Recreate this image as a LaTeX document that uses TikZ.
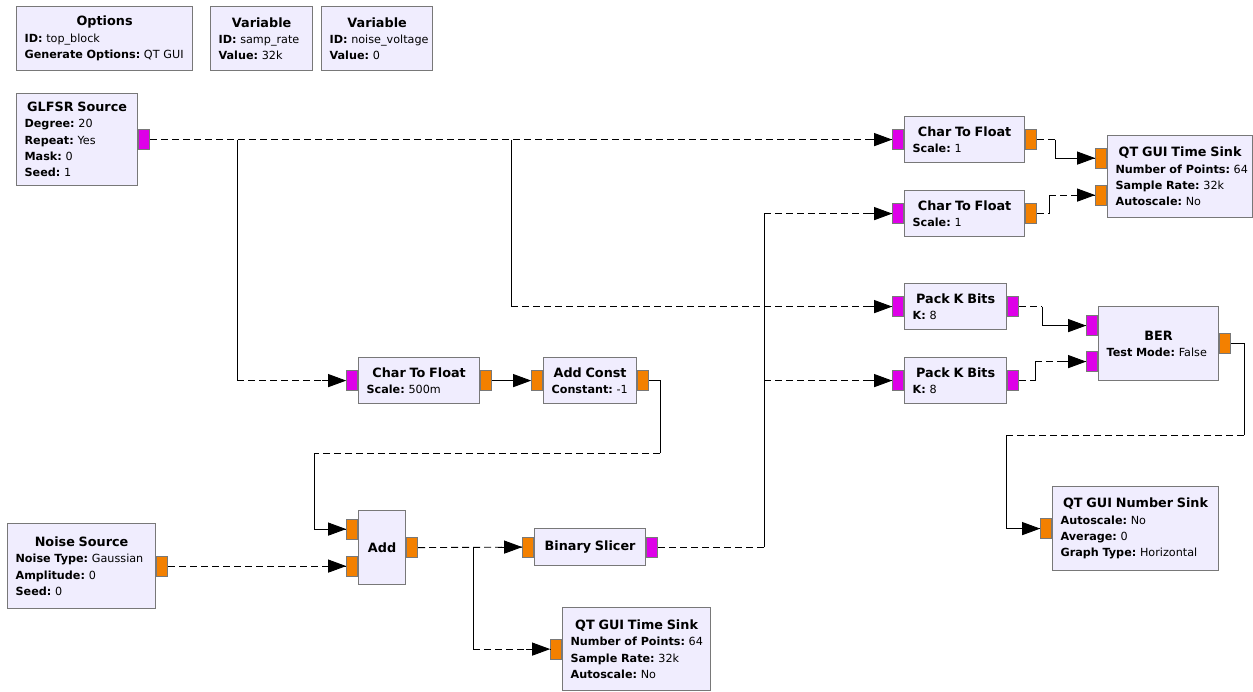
\documentclass[tikz,border=0pt]{standalone}
\usepackage{fontspec}
\setmainfont{DejaVu Sans}
\usepackage{xcolor}
\usepackage{tikz}
\usetikzlibrary{arrows.meta,positioning}

\definecolor{blkfill}{RGB}{240,237,254}
\definecolor{blkline}{RGB}{120,120,120}
\definecolor{bytemag}{RGB}{222,0,232}
\definecolor{floatorg}{RGB}{243,128,0}
\newcommand{\btitle}[1]{\centering{\fontsize{12.8}{17}\selectfont\bfseries #1\par}\raggedright}

\begin{document}
\begin{tikzpicture}[x=1pt,y=-1pt,
    block/.style={draw=blkline,line width=1.2pt,fill=blkfill,anchor=north west,
      inner xsep=8pt,inner ysep=2pt,font=\fontsize{11.2}{16.3}\selectfont},
    portb/.style={draw=blkline,line width=0.8pt,fill=bytemag,minimum width=11pt,
      minimum height=20pt,inner sep=0pt},
    portf/.style={portb,fill=floatorg},
    wire/.style={black,line width=0.9pt},
    link/.style={wire,dash pattern=on 7pt off 4pt},
    tip/.style={wire,-{Triangle[length=18pt,width=13pt]}}]
    \useasboundingbox (0,0) rectangle (1253,692);
    % Variables and options
    \node[block,text width=160pt,minimum height=64pt] (opts) at (16,6)
      {\btitle{Options}\textbf{ID:}~top\_block\par\textbf{Generate~Options:}~QT~GUI};
    \node[block,text width=86pt,minimum height=64pt] (var1) at (210,6)
      {\btitle{Variable}\textbf{ID:}~samp\_rate\par\textbf{Value:}~32k};
    \node[block,text width=95pt,minimum height=64pt] (var2) at (321,6)
      {\btitle{Variable}\textbf{ID:}~noise\_voltage\par\textbf{Value:}~0};
    % Sources
    \node[block,text width=105pt,minimum height=92pt] (glfsr) at (16,93)
      {\btitle{GLFSR~Source}\textbf{Degree:}~20\par\textbf{Repeat:}~Yes\par\textbf{Mask:}~0\par\textbf{Seed:}~1};
    \node[block,text width=132pt,minimum height=85pt] (noise) at (7,523)
      {\btitle{Noise~Source}\textbf{Noise~Type:}~Gaussian\par\textbf{Amplitude:}~0\par\textbf{Seed:}~0};
    % Processing blocks
    \node[block,text width=105pt,minimum height=46pt] (c2fm) at (358,357)
      {\btitle{Char~To~Float}\textbf{Scale:}~500m};
    \node[block,text width=77pt,minimum height=46pt] (addc) at (543,357)
      {\btitle{Add~Const}\textbf{Constant:}~-1};
    \node[block,text width=31pt,minimum height=74pt] (add) at (358,510) {\btitle{Add}};
    \node[block,text width=95pt,minimum height=37pt] (bs) at (534,528) {\btitle{Binary~Slicer}};
    \node[block,text width=104pt,minimum height=46pt] (c2f1) at (904,116)
      {\btitle{Char~To~Float}\textbf{Scale:}~1};
    \node[block,text width=104pt,minimum height=46pt] (c2f2) at (904,190)
      {\btitle{Char~To~Float}\textbf{Scale:}~1};
    \node[block,text width=86pt,minimum height=46pt] (pk1) at (904,283)
      {\btitle{Pack~K~Bits}\textbf{K:}~8};
    \node[block,text width=86pt,minimum height=46pt] (pk2) at (904,357)
      {\btitle{Pack~K~Bits}\textbf{K:}~8};
    \node[block,text width=104pt,minimum height=74pt] (ber) at (1098,306)
      {\btitle{BER}\textbf{Test~Mode:}~False};
    % Sinks
    \node[block,text width=129pt,minimum height=82pt] (ts1) at (1107,135)
      {\btitle{QT~GUI~Time~Sink}\textbf{Number~of~Points:}~64\par\textbf{Sample~Rate:}~32k\par\textbf{Autoscale:}~No};
    \node[block,text width=132pt,minimum height=83pt] (ts2) at (562,607)
      {\btitle{QT~GUI~Time~Sink}\textbf{Number~of~Points:}~64\par\textbf{Sample~Rate:}~32k\par\textbf{Autoscale:}~No};
    \node[block,text width=150pt,minimum height=84pt] (ns) at (1052,486)
      {\btitle{QT~GUI~Number~Sink}\textbf{Autoscale:}~No\par\textbf{Average:}~0\par\textbf{Graph~Type:}~Horizontal};
    % Ports
    \node[portb,anchor=west] (glfsr-out) at (glfsr.east) {};
    \node[portf,anchor=west] (noise-out) at (noise.east) {};
    \node[portb,anchor=east] (c2fm-in) at (c2fm.west) {};
    \node[portf,anchor=west] (c2fm-out) at (c2fm.east) {};
    \node[portf,anchor=east] (addc-in) at (addc.west) {};
    \node[portf,anchor=west] (addc-out) at (addc.east) {};
    \node[portf,anchor=east] (add-in0) at ([yshift=18.5pt]add.west) {};
    \node[portf,anchor=east] (add-in1) at ([yshift=-18.5pt]add.west) {};
    \node[portf,anchor=west] (add-out) at (add.east) {};
    \node[portf,anchor=east] (bs-in) at (bs.west) {};
    \node[portb,anchor=west] (bs-out) at (bs.east) {};
    \node[portb,anchor=east] (c2f1-in) at (c2f1.west) {};
    \node[portf,anchor=west] (c2f1-out) at (c2f1.east) {};
    \node[portb,anchor=east] (c2f2-in) at (c2f2.west) {};
    \node[portf,anchor=west] (c2f2-out) at (c2f2.east) {};
    \node[portb,anchor=east] (pk1-in) at (pk1.west) {};
    \node[portb,anchor=west] (pk1-out) at (pk1.east) {};
    \node[portb,anchor=east] (pk2-in) at (pk2.west) {};
    \node[portb,anchor=west] (pk2-out) at (pk2.east) {};
    \node[portb,anchor=east] (ber-in0) at ([yshift=18pt]ber.west) {};
    \node[portb,anchor=east] (ber-in1) at ([yshift=-18pt]ber.west) {};
    \node[portf,anchor=west] (ber-out) at (ber.east) {};
    \node[portf,anchor=east] (ts1-in0) at ([yshift=18.5pt]ts1.west) {};
    \node[portf,anchor=east] (ts1-in1) at ([yshift=-18.5pt]ts1.west) {};
    \node[portf,anchor=east] (ts2-in) at (ts2.west) {};
    \node[portf,anchor=east] (ns-in) at (ns.west) {};
    % Lanes and bends
    \coordinate (v1) at (237,0);
    \coordinate (v2) at (511,0);
    \coordinate (v3) at (473,0);
    \coordinate (v4) at (764,0);
    \coordinate (v5) at (1055,0);
    \coordinate (v6) at (1049,0);
    \coordinate (v7) at (1042,0);
    \coordinate (v8) at (1035,0);
    \coordinate (r1) at (660,453);
    \coordinate (r2) at (314,453);
    \coordinate (r3) at (1244,435);
    \coordinate (r4) at (1006,435);
    % GLFSR source fan-out
    \draw[link] (glfsr-out.east) -- (c2f1-in.west);
    \draw[wire] (v1 |- glfsr-out) -- (v1 |- c2fm-in);
    \draw[link] (v1 |- c2fm-in) -- (c2fm-in.west);
    \draw[wire] (v2 |- glfsr-out) -- (v2 |- pk1-in);
    \draw[link] (v2 |- pk1-in) -- (pk1-in.west);
    \draw[tip] ([xshift=-24pt]c2f1-in.west) -- (c2f1-in.west);
    \draw[tip] ([xshift=-24pt]c2fm-in.west) -- (c2fm-in.west);
    \draw[tip] ([xshift=-24pt]pk1-in.west) -- (pk1-in.west);
    % Char to float -> add const -> add
    \draw[tip] (c2fm-out.east) -- (addc-in.west);
    \draw[wire] (addc-out.east) -| (r1);
    \draw[link] (r1) -- (r2);
    \draw[wire] (r2) |- (add-in0.west);
    \draw[tip] ([xshift=-24pt]add-in0.west) -- (add-in0.west);
    % Noise -> add
    \draw[link] (noise-out.east) -- (add-in1.west);
    \draw[tip] ([xshift=-24pt]add-in1.west) -- (add-in1.west);
    % Add -> binary slicer and time sink
    \draw[link] (add-out.east) -- (bs-in.west);
    \draw[wire] (v3 |- add-out) -- (v3 |- ts2-in);
    \draw[link] (v3 |- ts2-in) -- (ts2-in.west);
    \draw[tip] ([xshift=-24pt]bs-in.west) -- (bs-in.west);
    \draw[tip] ([xshift=-24pt]ts2-in.west) -- (ts2-in.west);
    % Binary slicer fan-out
    \draw[link] (bs-out.east) -- (v4 |- bs-out);
    \draw[wire] (v4 |- bs-out) -- (v4 |- c2f2-in);
    \draw[link] (v4 |- c2f2-in) -- (c2f2-in.west);
    \draw[link] (v4 |- pk2-in) -- (pk2-in.west);
    \draw[tip] ([xshift=-24pt]c2f2-in.west) -- (c2f2-in.west);
    \draw[tip] ([xshift=-24pt]pk2-in.west) -- (pk2-in.west);
    % Char to float -> time sink
    \draw[link] (c2f1-out.east) -- (v5 |- c2f1-out);
    \draw[wire] (v5 |- c2f1-out) |- (ts1-in0.west);
    \draw[tip] ([xshift=-24pt]ts1-in0.west) -- (ts1-in0.west);
    \draw[link] (c2f2-out.east) -- (v6 |- c2f2-out);
    \draw[wire] (v6 |- c2f2-out) -- (v6 |- ts1-in1);
    \draw[link] (v6 |- ts1-in1) -- (ts1-in1.west);
    \draw[tip] ([xshift=-24pt]ts1-in1.west) -- (ts1-in1.west);
    % Pack k bits -> BER
    \draw[link] (pk1-out.east) -- (v7 |- pk1-out);
    \draw[wire] (v7 |- pk1-out) |- (ber-in0.west);
    \draw[tip] ([xshift=-24pt]ber-in0.west) -- (ber-in0.west);
    \draw[link] (pk2-out.east) -- (v8 |- pk2-out);
    \draw[wire] (v8 |- pk2-out) -- (v8 |- ber-in1);
    \draw[link] (v8 |- ber-in1) -- (ber-in1.west);
    \draw[tip] ([xshift=-24pt]ber-in1.west) -- (ber-in1.west);
    % BER -> number sink
    \draw[wire] (ber-out.east) -| (r3);
    \draw[link] (r3) -- (r4);
    \draw[wire] (r4) |- (ns-in.west);
    \draw[tip] ([xshift=-24pt]ns-in.west) -- (ns-in.west);
\end{tikzpicture}
\end{document}
